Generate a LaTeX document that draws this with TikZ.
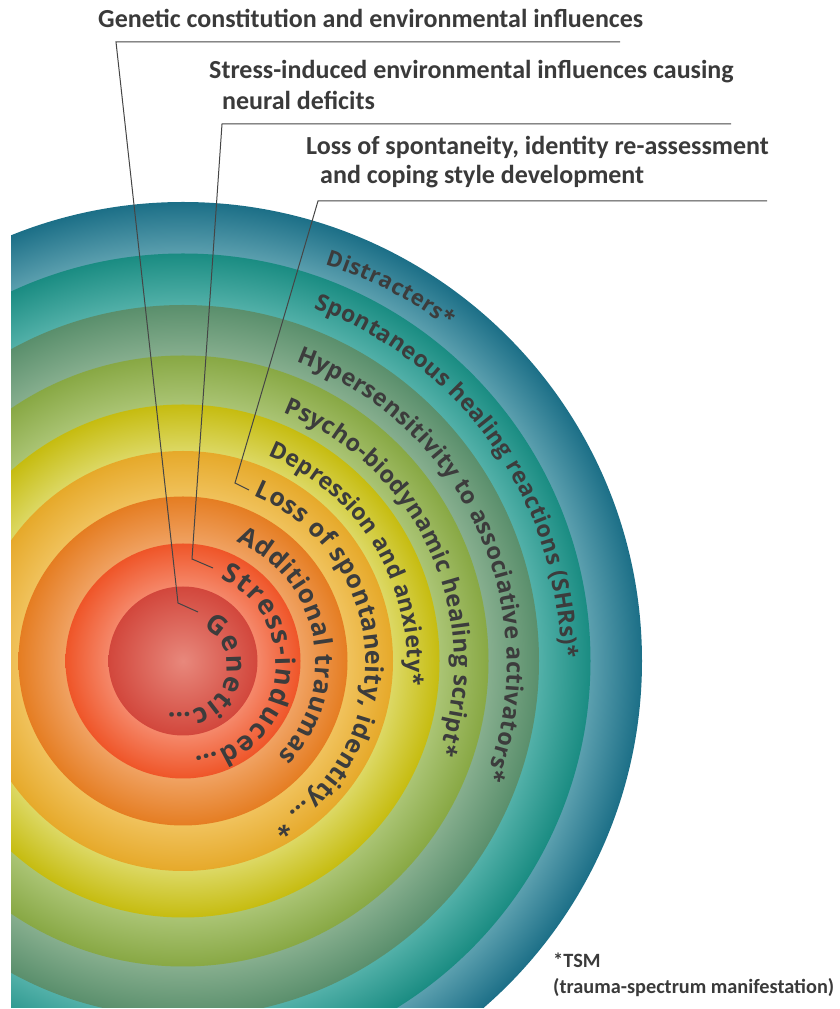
\documentclass[tikz,border=0pt]{standalone}
\usepackage{fontspec}
\setmainfont{Carlito}
\newfontfamily\arcfamily{Open Sans}
\usetikzlibrary{decorations.text}
\definecolor{txt}{HTML}{3A3A3A}
\definecolor{arctxt}{HTML}{3C3C3C}
\definecolor{leadc}{HTML}{454545}
% ring colours: o = outer edge, i = inner edge
\definecolor{c9o}{HTML}{1C6F87}\definecolor{c9i}{HTML}{5B9FAE}
\definecolor{c8o}{HTML}{1A8C82}\definecolor{c8i}{HTML}{52B0A8}
\definecolor{c7o}{HTML}{5A8F6C}\definecolor{c7i}{HTML}{86AE8E}
\definecolor{c6o}{HTML}{88A844}\definecolor{c6i}{HTML}{AAC474}
\definecolor{c5o}{HTML}{C6BC10}\definecolor{c5i}{HTML}{DCD864}
\definecolor{c4o}{HTML}{E6A92A}\definecolor{c4i}{HTML}{F0C25C}
\definecolor{c3o}{HTML}{E57D22}\definecolor{c3i}{HTML}{F0A262}
\definecolor{c2o}{HTML}{EF5528}\definecolor{c2i}{HTML}{F5886A}
\definecolor{c1o}{HTML}{D2473C}\definecolor{c1i}{HTML}{E8887C}
\pgfdeclareradialshading{ringnine}{\pgfpoint{0bp}{0bp}}{color(0bp)=(c9i); color(22.19bp)=(c9i); color(25bp)=(c9o); color(50bp)=(c9o)}
\pgfdeclareradialshading{ringeight}{\pgfpoint{0bp}{0bp}}{color(0bp)=(c8i); color(21.84bp)=(c8i); color(25bp)=(c8o); color(50bp)=(c8o)}
\pgfdeclareradialshading{ringseven}{\pgfpoint{0bp}{0bp}}{color(0bp)=(c7i); color(21.45bp)=(c7i); color(25bp)=(c7o); color(50bp)=(c7o)}
\pgfdeclareradialshading{ringsix}{\pgfpoint{0bp}{0bp}}{color(0bp)=(c6i); color(20.99bp)=(c6i); color(25bp)=(c6o); color(50bp)=(c6o)}
\pgfdeclareradialshading{ringfive}{\pgfpoint{0bp}{0bp}}{color(0bp)=(c5i); color(20.47bp)=(c5i); color(25bp)=(c5o); color(50bp)=(c5o)}
\pgfdeclareradialshading{ringfour}{\pgfpoint{0bp}{0bp}}{color(0bp)=(c4i); color(19.58bp)=(c4i); color(25bp)=(c4o); color(50bp)=(c4o)}
\pgfdeclareradialshading{ringthree}{\pgfpoint{0bp}{0bp}}{color(0bp)=(c3i); color(17.86bp)=(c3i); color(25bp)=(c3o); color(50bp)=(c3o)}
\pgfdeclareradialshading{ringtwo}{\pgfpoint{0bp}{0bp}}{color(0bp)=(c2i); color(15.85bp)=(c2i); color(25bp)=(c2o); color(50bp)=(c2o)}
\pgfdeclareradialshading{ringone}{\pgfpoint{0bp}{0bp}}{color(0bp)=(c1i); color(25bp)=(c1o); color(50bp)=(c1o)}
\newcommand{\arcstyle}[1]{\arcfamily\bfseries\fontsize{#1}{#1}\selectfont\color{arctxt}}
\begin{document}
\begin{tikzpicture}[x=1pt,y=1pt,
  lab/.style={font=\bfseries\fontsize{26}{30}\selectfont, text=txt, inner sep=0pt, anchor=base west},
  foot/.style={font=\bfseries\fontsize{20.3}{24}\selectfont, text=txt, inner sep=0pt, anchor=base west},
  leader/.style={draw=leadc, line width=1pt},
  arclabel/.style 2 args={decorate, decoration={text along path, text={|\arcstyle{#1}|#2}, text align={fit to path}}}]
\useasboundingbox (0,0) rectangle (840,1009);
\coordinate (C) at (183,348);
\begin{scope}
  \clip (11,1) rectangle (840,1009);
  \shade[shading=ringnine]  (C) circle[radius=459pt];
  \shade[shading=ringeight] (C) circle[radius=407.5pt];
  \shade[shading=ringseven] (C) circle[radius=356pt];
  \shade[shading=ringsix]   (C) circle[radius=305.5pt];
  \shade[shading=ringfive]  (C) circle[radius=256.5pt];
  \shade[shading=ringfour]  (C) circle[radius=210pt];
  \shade[shading=ringthree] (C) circle[radius=164.5pt];
  \shade[shading=ringtwo]   (C) circle[radius=117.5pt];
  \shade[shading=ringone]   (C) circle[radius=74.5pt];
\end{scope}
% curved ring labels (slightly spiralling baselines)
\begin{scope}[shift={(C)}]
  \path[arclabel={22}{Distracters*}] plot[domain=0:1, samples=60] ({70.3-18.8*\x}:{421+5*\x});
  \path[arclabel={23}{Spontaneous healing reactions (SHRs)*}] plot[domain=0:1, samples=120] ({69.7-69.4*\x}:{376+2*\x});
  \path[arclabel={23.5}{Hypersensitivity to associative activators*}] plot[domain=0:1, samples=150] ({69.3-90.7*\x}:{320+5*\x});
  \path[arclabel={23.5}{Psycho-biodynamic healing script*}] plot[domain=0:1, samples=150] ({68.1-88.2*\x}:{268+4*\x});
  \path[arclabel={23}{Depression and anxiety*}] plot[domain=0:1, samples=120] ({67.6-73.8*\x}:{222+2*\x});
  \path[arclabel={25}{Loss of spontaneity, identity… *}] plot[domain=0:1, samples=150] ({66.8-128.5*\x}:{180+5*\x});
  \path[arclabel={25.5}{Additional traumas}] plot[domain=0:1, samples=120] ({65.9-111.1*\x}:{131+3*\x});
  \path[arclabel={27}{Stress-induced…}] plot[domain=0:1, samples=150] ({65.6-149.1*\x}:{90+7*\x});
  \path[arclabel={27}{Genetic…}] plot[domain=0:1, samples=150] ({60-167*\x}:{39+14*\x});
\end{scope}
% top labels
\node[lab] (gen) at (98,981) {Genetic constitution and environmental influences};
\node[lab] (str) at (209,930) {Stress-induced environmental influences causing};
\node[lab] (strb) at (222,899) {neural deficits};
\node[lab] (loss) at (306,854) {Loss of spontaneity, identity re-assessment};
\node[lab] (lossb) at (320,825) {and coping style development};
% leader lines
\coordinate (g0) at (620,967); \coordinate (g1) at (116,967);
\coordinate (g2) at (178,406); \coordinate (g3) at (198,397);
\coordinate (s0) at (731,885); \coordinate (s1) at (222,885);
\coordinate (s2) at (192,450); \coordinate (s3) at (213,441);
\coordinate (t0) at (767,808); \coordinate (t1) at (318,808);
\coordinate (t2) at (235,526); \coordinate (t3) at (249,519);
\draw[leader] (g0) -- (g1) -- (g2) -- (g3);
\draw[leader] (s0) -- (s1) -- (s2) -- (s3);
\draw[leader] (t0) -- (t1) -- (t2) -- (t3);
% footnote
\node[foot] (tsm) at (553,41) {*TSM};
\node[foot] (tsmb) at (553,16) {(trauma-spectrum manifestation)};
\end{tikzpicture}
\end{document}
